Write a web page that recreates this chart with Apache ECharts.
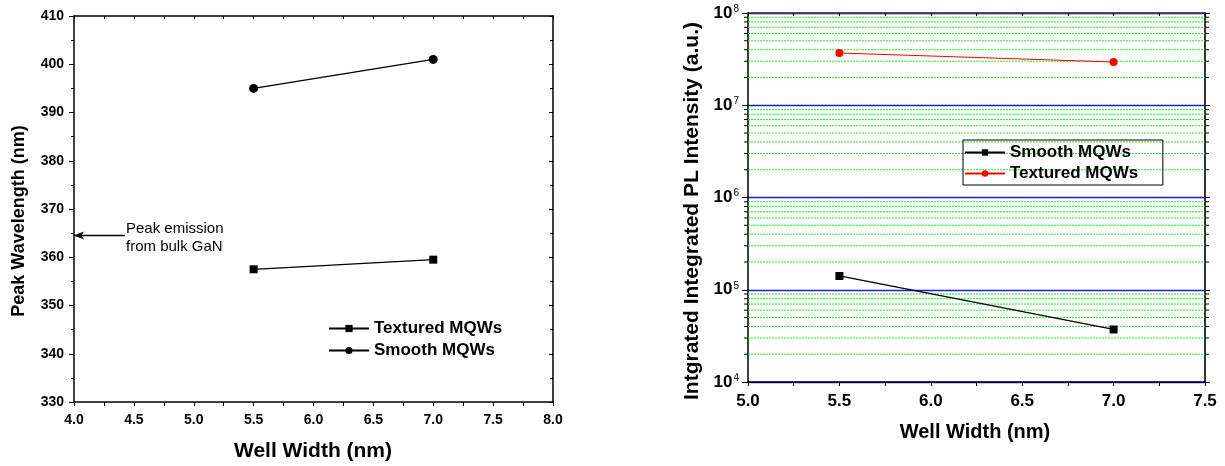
<!DOCTYPE html>
<html>
<head>
<meta charset="utf-8">
<script src="https://cdn.jsdelivr.net/npm/echarts@6/dist/echarts.min.js"></script>
<style>
html,body{margin:0;padding:0;background:#fff;}
#c{width:1225px;height:466px;}
</style>
</head>
<body>
<div id="c"></div>
<script>
// ---------- data ----------
const leftWellWidth = [5.5, 7.0];
const texturedWavelength = [357.5, 359.5];
const smoothWavelength = [395, 401];
const rightWellWidth = [5.5, 7.0];
const smoothIntensity = [1.41e5, 3.71e4];
const texturedIntensity = [3.68e7, 2.94e7];
const leftXRange = [4.0, 8.0];
const leftYRange = [330, 410];
const rightXRange = [5.0, 7.5];
const rightYRange = [1e4, 1e8];
const minorFactors = [2, 3, 4, 5, 6, 7, 8, 9];
const decades = [1e4, 1e5, 1e6, 1e7];
const bulkGaNPeak = [364.5];
const arrowX = [4.0, 4.425];

const FONT = "'Liberation Sans', Arial, sans-serif";
const minorGrid = [];
decades.forEach(d => minorFactors.forEach(f => minorGrid.push([rightXRange[0], d * f])));

const chart = echarts.init(document.getElementById('c'), null, {renderer: 'canvas'});

function pairs(xs, ys) { return xs.map((x, i) => [x, ys[i]]); }

const labelStyle = (size) => ({color: '#000', fontFamily: FONT, fontWeight: 'bold', fontSize: size});
const hidden = {show: false};

const option = {
  animation: false,
  backgroundColor: '#fff',
  grid: [
    {left: 74, top: 16, width: 479, height: 386},
    {left: 748, top: 13, width: 457, height: 369}
  ],
  xAxis: [
    {gridIndex: 0, type: 'value', min: leftXRange[0], max: leftXRange[1], interval: 0.5, position: 'bottom',
     axisLine: {onZero: false, lineStyle: {color: '#000', width: 1.5}},
     axisTick: {show: true, length: 4, inside: false, lineStyle: {color: '#000', width: 1}},
     minorTick: {show: true, splitNumber: 2, length: 4, lineStyle: {color: '#000', width: 1}},
     axisLabel: Object.assign({margin: 11, formatter: v => v.toFixed(1)}, labelStyle(14)),
     splitLine: hidden},
    {gridIndex: 0, type: 'value', min: leftXRange[0], max: leftXRange[1], interval: 0.5, position: 'top',
     axisLine: {onZero: false, lineStyle: {color: '#000', width: 1.5}},
     axisTick: {show: true, length: 3, inside: true, lineStyle: {color: '#000'}},
     minorTick: {show: true, splitNumber: 2, length: 3, lineStyle: {color: '#000'}},
     axisLabel: hidden, splitLine: hidden},
    {gridIndex: 1, type: 'value', min: rightXRange[0], max: rightXRange[1], interval: 0.5, position: 'bottom',
     axisLine: {onZero: false, lineStyle: {color: '#000', width: 1.5}},
     axisTick: {show: true, length: 4, inside: false, lineStyle: {color: '#000', width: 1}},
     minorTick: {show: true, splitNumber: 2, length: 4, lineStyle: {color: '#000', width: 1}},
     axisLabel: Object.assign({margin: 11, formatter: v => v.toFixed(1)}, labelStyle(17)),
     splitLine: hidden},
    {gridIndex: 1, type: 'value', min: rightXRange[0], max: rightXRange[1], interval: 0.5, position: 'top',
     axisLine: {onZero: false, lineStyle: {color: '#333', width: 1.5}},
     axisTick: {show: true, length: 3, inside: true, lineStyle: {color: '#000'}},
     minorTick: {show: true, splitNumber: 2, length: 3, lineStyle: {color: '#000'}},
     axisLabel: hidden, splitLine: hidden}
  ],
  yAxis: [
    {gridIndex: 0, type: 'value', min: leftYRange[0], max: leftYRange[1], interval: 10, position: 'left',
     axisLine: {onZero: false, lineStyle: {color: '#000', width: 1.5}},
     axisTick: {show: true, length: 5, inside: false, lineStyle: {color: '#000', width: 1}},
     minorTick: {show: true, splitNumber: 2, length: 3, lineStyle: {color: '#000', width: 1}},
     axisLabel: Object.assign({margin: 10}, labelStyle(14)),
     splitLine: hidden},
    {gridIndex: 0, type: 'value', min: leftYRange[0], max: leftYRange[1], interval: 10, position: 'right',
     axisLine: {onZero: false, lineStyle: {color: '#000', width: 1.5}},
     axisTick: {show: true, length: 4, inside: true, lineStyle: {color: '#000'}},
     minorTick: {show: true, splitNumber: 2, length: 3, lineStyle: {color: '#000'}},
     axisLabel: hidden, splitLine: hidden},
    {gridIndex: 1, type: 'log', logBase: 10, min: rightYRange[0], max: rightYRange[1], position: 'left',
     axisLine: {onZero: false, lineStyle: {color: '#000', width: 1.5}},
     axisTick: {show: true, length: 6, inside: false, lineStyle: {color: '#000', width: 1}},
     axisLabel: {margin: 9, color: '#000',
       formatter: v => '{b|10}{s|' + Math.round(Math.log10(v)) + '}',
       rich: {
         b: {fontFamily: FONT, fontWeight: 'bold', fontSize: 17, color: '#000', lineHeight: 18},
         s: {fontFamily: FONT, fontWeight: 'normal', fontSize: 10, color: '#000', verticalAlign: 'top', lineHeight: 10, padding: [0, 0, 8, 1]}
       }},
     splitLine: {show: true, lineStyle: {color: '#1a1aee', width: 1.3, type: 'solid'}}},
    {gridIndex: 1, type: 'log', logBase: 10, min: rightYRange[0], max: rightYRange[1], position: 'right',
     axisLine: {onZero: false, lineStyle: {color: '#333', width: 2}},
     axisTick: {show: true, length: 5, inside: false, lineStyle: {color: '#000'}},
     axisLabel: hidden, splitLine: hidden}
  ],
  legend: [
    {left: 328, top: 320, orient: 'vertical', itemWidth: 40, itemHeight: 9, itemGap: 5,
     textStyle: labelStyle(17), data: ['Textured MQWs', 'Smooth MQWs'],
     selectedMode: false, padding: 0},
    {left: 963, top: 140, orient: 'vertical', itemWidth: 40, itemHeight: 8, itemGap: 4,
     borderColor: '#000', borderWidth: 1, padding: [4, 20, 3, 1],
     textStyle: labelStyle(17), data: ['Smooth MQWs ', 'Textured MQWs '],
     selectedMode: false}
  ],
  series: [
    {name: 'Textured MQWs', type: 'line', xAxisIndex: 0, yAxisIndex: 0,
     data: pairs(leftWellWidth, texturedWavelength), symbol: 'rect', symbolSize: 8,
     itemStyle: {color: '#000'}, lineStyle: {color: '#000', width: 1.3},
     markLine: {silent: true, symbol: ['arrow', 'none'], symbolSize: [6, 10], animation: false,
       lineStyle: {color: '#000', width: 1.3, type: 'solid'}, label: {show: false},
       data: [[{coord: [arrowX[0], bulkGaNPeak[0]]}, {coord: [arrowX[1], bulkGaNPeak[0]]}]]}},
    {name: 'Smooth MQWs', type: 'line', xAxisIndex: 0, yAxisIndex: 0,
     data: pairs(leftWellWidth, smoothWavelength), symbol: 'circle', symbolSize: 9,
     itemStyle: {color: '#000'}, lineStyle: {color: '#000', width: 1.3}},
    {type: 'custom', xAxisIndex: 2, yAxisIndex: 2, silent: true, clip: false, z: 1,
     data: minorGrid, encode: {x: 0, y: 1},
     renderItem: function (params, api) {
       const v = api.value(1);
       const p1 = api.coord([rightXRange[0], v]);
       const p2 = api.coord([rightXRange[1], v]);
       return {type: 'group', children: [
         {type: 'line', shape: {x1: p1[0], y1: p1[1], x2: p2[0], y2: p2[1]},
          style: {stroke: '#22ee22', lineWidth: 1, lineDash: [2, 1]}},
         {type: 'line', shape: {x1: p1[0] - 4, y1: p1[1], x2: p1[0], y2: p1[1]},
          style: {stroke: '#000', lineWidth: 1}},
         {type: 'line', shape: {x1: p2[0], y1: p2[1], x2: p2[0] + 4, y2: p2[1]},
          style: {stroke: '#000', lineWidth: 1}}
       ]};
     }},
    {name: 'Smooth MQWs ', type: 'line', xAxisIndex: 2, yAxisIndex: 2, z: 5,
     data: pairs(rightWellWidth, smoothIntensity), symbol: 'rect', symbolSize: 8,
     itemStyle: {color: '#000'}, lineStyle: {color: '#000', width: 1.3}},
    {name: 'Textured MQWs ', type: 'line', xAxisIndex: 2, yAxisIndex: 2, z: 5,
     data: pairs(rightWellWidth, texturedIntensity), symbol: 'circle', symbolSize: 8,
     itemStyle: {color: '#ff0000'}, lineStyle: {color: '#ff0000', width: 1.1}}
  ],
  graphic: [
    {type: 'text', left: 126, top: 220, silent: true,
     style: {text: 'Peak emission\nfrom bulk GaN', font: '15px ' + FONT, fill: '#000', lineHeight: 18}},
    {type: 'text', x: 313, y: 451.5, silent: true,
     style: {text: 'Well Width (nm)', font: 'bold 21px ' + FONT, fill: '#000', align: 'center', verticalAlign: 'middle'}},
    {type: 'text', x: 19, y: 221, rotation: Math.PI / 2, silent: true,
     style: {text: 'Peak Wavelength (nm)', font: 'bold 18px ' + FONT, fill: '#000', align: 'center', verticalAlign: 'middle'}},
    {type: 'text', x: 975, y: 432, silent: true,
     style: {text: 'Well Width (nm)', font: 'bold 20px ' + FONT, fill: '#000', align: 'center', verticalAlign: 'middle'}},
    {type: 'text', x: 692, y: 211, rotation: Math.PI / 2, silent: true,
     style: {text: 'Intgrated Integrated PL Intensity (a.u.)', font: 'bold 21px ' + FONT, fill: '#000', align: 'center', verticalAlign: 'middle'}}
  ]
};
chart.setOption(option);
</script>
</body>
</html>
